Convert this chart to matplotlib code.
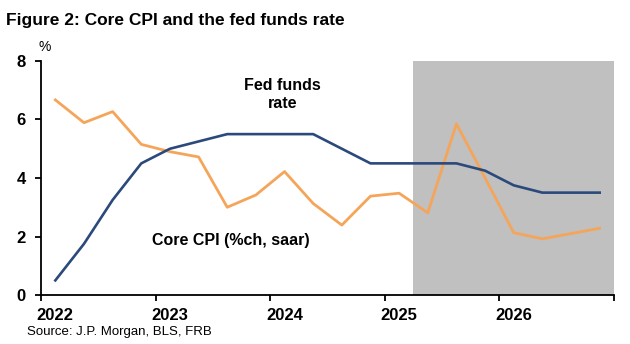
import matplotlib.pyplot as plt
import matplotlib.transforms as mtransforms
from matplotlib import font_manager

# quarterly points, placed mid-quarter
quarters = [2022.125, 2022.375, 2022.625, 2022.875,
            2023.125, 2023.375, 2023.625, 2023.875,
            2024.125, 2024.375, 2024.625, 2024.875,
            2025.125, 2025.375, 2025.625, 2025.875,
            2026.125, 2026.375, 2026.625, 2026.875]
fed_funds = [0.5, 1.75, 3.25, 4.5,
             5.0, 5.25, 5.5, 5.5,
             5.5, 5.5, 5.0, 4.5,
             4.5, 4.5, 4.5, 4.25,
             3.75, 3.5, 3.5, 3.5]
core_cpi = [6.67, 5.89, 6.27, 5.15,
            4.9, 4.72, 3.0, 3.42,
            4.22, 3.13, 2.39, 3.38,
            3.48, 2.81, 5.85, 4.0,
            2.13, 1.92, 2.1, 2.28]
years = [2022, 2023, 2024, 2025, 2026, 2027]
year_labels = ["2022", "2023", "2024", "2025", "2026", ""]
forecast_start = 2025.25

names = {f.name for f in font_manager.fontManager.ttflist}
narrow = "Liberation Sans Narrow" if "Liberation Sans Narrow" in names else "Liberation Sans"
plt.rcParams["font.family"] = [narrow, "DejaVu Sans"]

blue = "#2b4a7b"
orange = "#f5a55a"

fig = plt.figure(figsize=(6.3, 3.44), dpi=100)
ax = fig.add_axes([0.0651, 0.1424, 0.9095, 0.6803])

ax.axvspan(forecast_start, 2027, color="#c0c0c0", lw=0, zorder=0)
ax.plot(quarters, fed_funds, color=blue, lw=1.9, zorder=3)
ax.plot(quarters, core_cpi, color=orange, lw=2.0, zorder=2)

ax.set_xlim(2022, 2027)
ax.set_ylim(0, 8)
ax.set_yticks([0, 2, 4, 6, 8])
ax.set_xticks(years)
ax.set_xticklabels(year_labels)
ax.tick_params(axis="both", labelsize=12, width=1.3, length=4, direction="out")
ax.tick_params(axis="x", pad=5)
ax.tick_params(axis="y", pad=7)
shift = mtransforms.ScaledTranslation(-3 / 72, 0, fig.dpi_scale_trans)
for lbl in ax.get_xticklabels():
    lbl.set_horizontalalignment("left")
    lbl.set_transform(lbl.get_transform() + shift)
for lbl in ax.get_xticklabels() + ax.get_yticklabels():
    lbl.set_fontweight("bold")
for s in ["top", "right"]:
    ax.spines[s].set_visible(False)
for s in ["left", "bottom"]:
    ax.spines[s].set_linewidth(1.3)

ax.text(2021.98, 8.25, "%", fontsize=10, ha="left", va="bottom")
ax.text(2024.11, 6.85, "Fed funds\nrate", fontsize=11.5, fontweight="bold",
        ha="center", va="center", linespacing=1.3)
ax.text(2023.66, 1.85, "Core CPI (%ch, saar)", fontsize=11.5, fontweight="bold",
        ha="center", va="center")

fig.text(0.01, 0.94, "Figure 2: Core CPI and the fed funds rate", fontsize=12.5,
         fontweight="bold", ha="left", va="center")
fig.text(0.043, 0.035, "Source: J.P. Morgan, BLS, FRB", fontsize=9.5,
         ha="left", va="center")

fig.savefig("out.png", dpi=100)
